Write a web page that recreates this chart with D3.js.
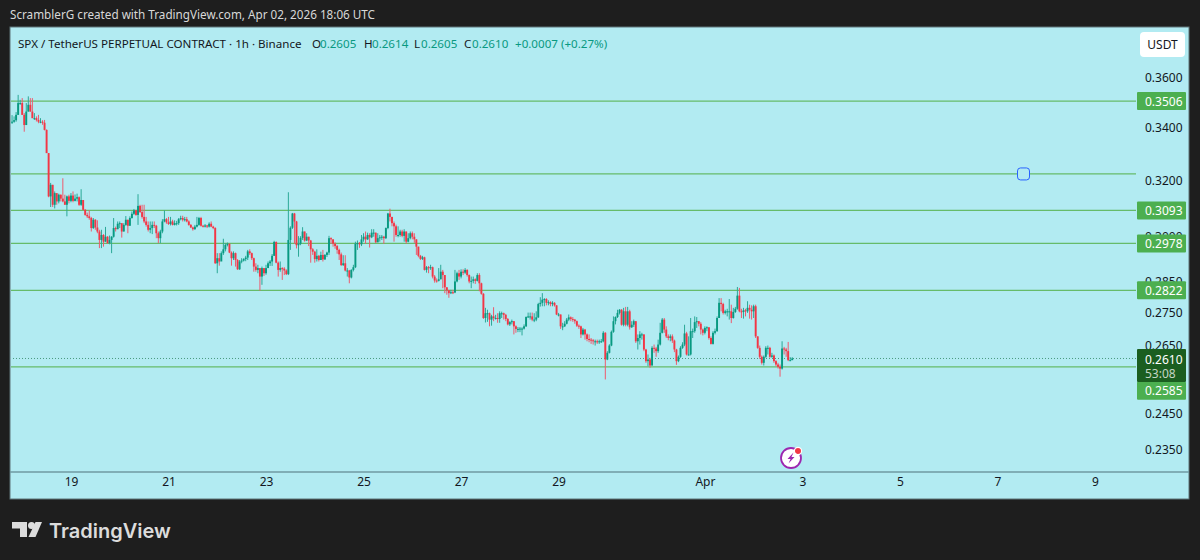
<!DOCTYPE html>
<html lang="en">
<head>
<meta charset="UTF-8">
<title>SPX / TetherUS 1h</title>
<script src="https://cdn.jsdelivr.net/npm/d3@7"></script>
<style>
  html, body { margin: 0; padding: 0; background: #1e1e1e; }
  svg { display: block; font-family: "Noto Sans", sans-serif; }
</style>
</head>
<body>
<svg id="chart" width="1200" height="560"></svg>
<script>
// hourly candles, oldest first. each open is the previous close
var firstOpen = 0.3433;
var closes = [
  .3424,.3424,.3430,.3451,.3498,.3498,.3451,.3411,.3464,.3491,.3464,.3438,.3438,.3431,.3424,.3424,.3420,
  .3392,.3303,.3143,.3185,.3113,.3155,.3125,.3149,.3135,.3125,.3113,.3143,.3127,.3146,.3127,.3135,.3140,
  .3113,.3130,.3095,.3077,.3072,.3066,.3031,.3060,.3033,.3019,.2990,.3007,.2984,.3001,.2979,.2990,.3001,
  .3031,.3027,.3046,.3048,.3019,.3042,.3060,.3039,.3066,.3081,.3093,.3077,.3109,.3087,.3070,.3054,.3042,
  .3025,.3031,.3042,.3039,.3013,.2996,.3019,.3054,.3062,.3051,.3045,.3054,.3042,.3048,.3048,.3062,.3066,
  .3060,.3062,.3054,.3042,.3033,.3027,.3036,.3042,.3066,.3039,.3036,.3040,.3036,.3046,.3036,.3031,.2911,
  .2928,.2917,.2945,.2958,.2973,.2977,.2947,.2928,.2945,.2922,.2891,.2917,.2920,.2925,.2930,.2951,.2945,
  .2928,.2900,.2889,.2895,.2867,.2895,.2878,.2895,
  .2911,.2917,.2936,.2983,.2913,.2889,.2895,.2893,.2887,.2875,.2990,.3032,.3082,.3054,.2972,.2977,.2997,
  .3019,.2988,.3001,.2988,.2958,.2950,.2925,.2936,.2922,.2939,.2924,.2939,.2947,.2996,.2992,.2977,.2969,
  .2956,.2941,.2905,.2911,.2887,.2887,.2864,.2889,.2898,.2977,.2979,.2975,.2992,.3001,.2992,.3007,.2999,
  .3015,.3015,.2982,.2996,.2999,.3001,.2996,.3031,.3082,.3070,.3048,.3037,.3007,.3007,.3019,.3004,.3019,
  .2984,.2996,.3013,.3001,.2992,.2967,.2936,.2926,.2931,.2889,.2898,.2895,.2898,.2867,.2854,.2853,.2858,
  .2883,.2872,.2832,.2822,.2813,.2816,.2815,.2851,.2878,.2867,.2883,.2880,.2889,.2872,.2851,.2853,.2858,.2853,
  .2872,.2845,.2811,.2734,.2749,.2749,.2729,.2739,.2734,.2734,.2731,.2749,.2749,.2744,.2731,.2714,.2721,.2724,
  .2708,.2700,.2700,.2701,.2701,.2708,.2737,.2739,
  .2739,.2729,.2729,.2736,.2778,.2782,.2792,.2794,.2782,.2784,.2778,.2782,.2774,.2745,.2745,.2708,.2708,
  .2716,.2729,.2736,.2731,.2729,.2724,.2710,.2708,.2683,.2698,.2683,.2669,.2667,.2665,.2662,.2662,.2659,
  .2662,.2662,.2688,.2607,.2627,.2649,.2691,.2724,.2737,.2750,.2760,.2713,.2755,.2713,.2755,.2705,.2713,
  .2724,.2662,.2672,.2683,.2683,.2637,.2602,.2607,.2589,.2642,.2640,.2632,.2652,.2688,.2729,.2698,.2677,
  .2672,.2677,.2664,.2637,.2602,.2615,.2642,.2652,.2686,.2622,.2622,.2693,.2693,.2721,.2724,.2716,.2698,
  .2688,.2703,.2705,.2672,.2654,.2688,.2693,.2734,.2782,.2778,.2750,.2755,.2755,.2755,.2734,.2753,.2763,
  .2805,.2755,.2753,.2758,.2755,.2766,.2760,.2755,.2771,.2677,.2642,.2615,.2597,.2615,.2642,.2642,.2615,
  .2619,.2602,.2592,.2585,.2580,.2640,.2637,.2632,.2605,.2605,.2610
];
var highs = [
  .3474,.3450,.3445,.3462,.3531,.3511,.3518,.3458,.3498,.3525,.3518,.3518,.3458,.3445,.3451,.3438,.3430,
  .3431,.3394,.3303,.3192,.3185,.3161,.3149,.3153,.3150,.3209,.3149,.3146,.3149,.3155,.3161,.3150,.3153,
  .3143,.3169,.3130,.3098,.3085,.3093,.3070,.3066,.3062,.3058,.3025,.3025,.3010,.3035,.3003,.3005,.3003,
  .3066,.3036,.3054,.3054,.3048,.3048,.3073,.3060,.3072,.3089,.3098,.3095,.3151,.3113,.3113,.3113,.3070,
  .3054,.3054,.3054,.3054,.3042,.3019,.3025,.3062,.3093,.3066,.3070,.3070,.3060,.3058,.3056,.3066,.3074,
  .3074,.3070,.3070,.3058,.3045,.3036,.3042,.3070,.3070,.3070,.3042,.3045,.3042,.3051,.3054,.3039,.3034,
  .2945,.2945,.2951,.2994,.2979,.2981,.2977,.2951,.2951,.2947,.2925,.2922,.2928,.2928,.2936,.2956,.2958,
  .2947,.2930,.2911,.2906,.2895,.2900,.2895,.2906,
  .2917,.2922,.2942,.2987,.2985,.2917,.2917,.2898,.2898,.2891,.3158,.3037,.3084,.3084,.3056,.3003,.3003,
  .3034,.3019,.3013,.3001,.2990,.2962,.2953,.2958,.2939,.2950,.2956,.2942,.2950,.3004,.2999,.2992,.2982,
  .2973,.2960,.2947,.2938,.2938,.2895,.2889,.2891,.2906,.2984,.2988,.2983,.3007,.3013,.3019,.3015,.3013,
  .3027,.3027,.3015,.3013,.3007,.3007,.3004,.3033,.3084,.3099,.3070,.3054,.3043,.3037,.3025,.3025,.3027,
  .3019,.3013,.3019,.3019,.3013,.2992,.2967,.2939,.2936,.2933,.2902,.2902,.2906,.2900,.2872,.2861,.2895,
  .2906,.2889,.2872,.2832,.2824,.2824,.2824,.2889,.2883,.2889,.2891,.2891,.2895,.2891,.2874,.2867,.2867,.2861,
  .2878,.2878,.2847,.2813,.2766,.2760,.2751,.2744,.2768,.2744,.2749,.2755,.2754,.2751,.2747,.2734,.2724,.2729,
  .2724,.2711,.2706,.2706,.2705,.2714,.2739,.2751,
  .2751,.2751,.2749,.2755,.2782,.2800,.2813,.2797,.2797,.2790,.2787,.2787,.2784,.2774,.2750,.2745,.2719,
  .2724,.2734,.2745,.2739,.2737,.2731,.2726,.2714,.2710,.2703,.2700,.2686,.2683,.2672,.2669,.2667,.2667,
  .2667,.2669,.2693,.2690,.2632,.2653,.2695,.2739,.2739,.2760,.2762,.2762,.2766,.2769,.2769,.2760,.2724,
  .2729,.2724,.2683,.2693,.2688,.2683,.2639,.2622,.2612,.2647,.2652,.2645,.2667,.2719,.2734,.2734,.2708,
  .2683,.2683,.2683,.2667,.2639,.2619,.2647,.2659,.2713,.2691,.2677,.2734,.2701,.2739,.2737,.2724,.2721,
  .2701,.2708,.2708,.2705,.2677,.2693,.2701,.2739,.2797,.2797,.2782,.2760,.2763,.2794,.2776,.2766,.2769,
  .2833,.2830,.2763,.2766,.2763,.2787,.2776,.2774,.2776,.2776,.2677,.2649,.2619,.2619,.2647,.2649,.2645,
  .2627,.2622,.2605,.2597,.2592,.2662,.2645,.2642,.2660,.2614,.2614
];
var lows = [
  .3418,.3415,.3420,.3424,.3451,.3491,.3451,.3385,.3411,.3464,.3464,.3438,.3431,.3425,.3418,.3418,.3412,
  .3390,.3303,.3140,.3105,.3105,.3100,.3113,.3118,.3125,.3122,.3113,.3072,.3118,.3122,.3122,.3125,.3125,
  .3109,.3109,.3093,.3074,.3066,.3060,.3019,.3028,.3025,.3013,.2962,.2962,.2967,.2984,.2977,.2975,.2945,
  .2998,.3019,.3027,.3031,.2998,.3019,.3039,.3013,.3039,.3064,.3077,.3074,.3042,.3084,.3064,.3048,.3036,
  .3019,.3013,.3010,.3031,.2996,.2979,.2979,.3013,.3051,.3046,.3042,.3040,.3040,.3040,.3040,.3042,.3058,
  .3054,.3054,.3051,.3039,.3031,.3022,.3025,.3033,.3039,.3036,.3033,.3033,.3031,.3033,.3034,.3027,.2909,
  .2878,.2903,.2922,.2939,.2951,.2968,.2945,.2903,.2922,.2900,.2889,.2889,.2911,.2917,.2918,.2922,.2939,
  .2922,.2883,.2883,.2878,.2821,.2840,.2869,.2873,
  .2900,.2902,.2902,.2936,.2911,.2867,.2883,.2856,.2872,.2872,.2872,.2956,.3028,.2977,.2961,.2933,.2972,
  .2990,.2984,.2986,.2969,.2913,.2939,.2913,.2917,.2917,.2922,.2917,.2922,.2932,.2939,.2977,.2967,.2960,
  .2943,.2922,.2902,.2902,.2884,.2867,.2845,.2861,.2884,.2895,.2956,.2963,.2969,.2984,.2977,.2990,.2964,
  .2996,.3001,.2979,.2982,.2984,.2990,.2977,.2993,.3027,.3054,.3037,.2984,.3001,.2999,.3001,.2999,.2984,
  .2977,.2982,.2992,.2992,.2980,.2939,.2931,.2922,.2922,.2887,.2880,.2878,.2889,.2861,.2847,.2847,.2851,
  .2858,.2829,.2813,.2808,.2798,.2810,.2810,.2813,.2848,.2856,.2861,.2872,.2876,.2867,.2845,.2829,.2845,.2843,
  .2851,.2819,.2808,.2731,.2720,.2722,.2708,.2710,.2724,.2729,.2719,.2719,.2734,.2729,.2724,.2711,.2709,.2714,
  .2683,.2688,.2690,.2690,.2680,.2698,.2706,.2734,
  .2729,.2724,.2721,.2724,.2734,.2770,.2771,.2771,.2774,.2774,.2771,.2771,.2770,.2743,.2739,.2700,.2696,
  .2706,.2714,.2724,.2724,.2722,.2716,.2706,.2700,.2672,.2680,.2667,.2662,.2659,.2654,.2652,.2649,.2654,
  .2654,.2657,.2659,.2548,.2605,.2625,.2647,.2688,.2714,.2734,.2745,.2710,.2708,.2708,.2708,.2698,.2703,
  .2706,.2657,.2637,.2652,.2667,.2632,.2597,.2587,.2582,.2589,.2627,.2615,.2627,.2649,.2686,.2688,.2672,
  .2665,.2662,.2657,.2629,.2591,.2599,.2612,.2639,.2647,.2619,.2619,.2619,.2672,.2688,.2703,.2708,.2683,
  .2680,.2683,.2693,.2667,.2652,.2652,.2683,.2691,.2734,.2755,.2745,.2745,.2739,.2729,.2718,.2732,.2750,
  .2760,.2752,.2734,.2732,.2739,.2750,.2732,.2729,.2734,.2672,.2639,.2609,.2592,.2589,.2612,.2622,.2612,
  .2612,.2597,.2587,.2580,.2556,.2577,.2622,.2615,.2602,.2602,.2605
];
if (closes.length != highs.length || closes.length != lows.length) {
  throw new Error("lengths " + closes.length + " " + highs.length + " " + lows.length);
}
var opens = [firstOpen].concat(closes.slice(0, -1));

var lastCandle = Date.UTC(2026, 3, 2, 18);
var hour = 3600000;
var times = closes.map(function (c, i) { return lastCandle - (closes.length - 1 - i) * hour; });

var levelPrices = [0.3506, 0.3225, 0.3093, 0.2978, 0.2822, 0.2585];
var levelLabels = ["0.3506", "", "0.3093", "0.2978", "0.2822", "0.2585"];
var priceTicks = [0.36, 0.34, 0.32, 0.30, 0.285, 0.275, 0.265, 0.245, 0.235];
var dayTicks = [
  Date.UTC(2026, 2, 19), Date.UTC(2026, 2, 21), Date.UTC(2026, 2, 23), Date.UTC(2026, 2, 25),
  Date.UTC(2026, 2, 27), Date.UTC(2026, 2, 29), Date.UTC(2026, 3, 1), Date.UTC(2026, 3, 3),
  Date.UTC(2026, 3, 5), Date.UTC(2026, 3, 7), Date.UTC(2026, 3, 9)
];
var dayLabels = ["19", "21", "23", "25", "27", "29", "Apr", "3", "5", "7", "9"];
var lastPrice = 0.2610;

// window.top is read-only, so pane edges get their own names
var paneLeft = 10, paneRight = 1136, paneTop = 27, paneBottom = 472;

var x = d3.scaleUtc().domain([Date.UTC(2026, 2, 19), Date.UTC(2026, 3, 9)]).range([73, 1097]);
var y = d3.scaleLog().domain([0.36, 0.235]).range([78, 450]);

var svg = d3.select("#chart");
var up = "#089981", down = "#f23645";
var upWick = "#2ba897", downWick = "#ee5a6e";

svg.append("rect").attr("x", paneLeft).attr("y", paneTop).attr("width", 1179).attr("height", 472)
  .attr("fill", "#b2ebf2").attr("stroke", "#5f7478").attr("stroke-width", 1);

svg.append("defs").append("clipPath").attr("id", "pane").append("rect")
  .attr("x", paneLeft + 1).attr("y", paneTop).attr("width", paneRight - paneLeft - 1).attr("height", paneBottom - paneTop);

svg.append("text").attr("x", 10).attr("y", 19).attr("fill", "#d8d8d8").attr("font-size", 11.7)
  .text("ScramblerG created with TradingView.com, Apr 02, 2026 18:06 UTC");

// legend row
var legend = [
  [18, "SPX / TetherUS PERPETUAL CONTRACT · 1h · Binance", "#131722"],
  [312, "O", "#131722"], [320, "0.2605", up],
  [364, "H", "#131722"], [372, "0.2614", up],
  [414, "L", "#131722"], [421, "0.2605", up],
  [464, "C", "#131722"], [472, "0.2610", up],
  [515, "+0.0007 (+0.27%)", up]
];
svg.append("g").selectAll("text").data(legend).join("text")
  .attr("x", function (d) { return d[0]; }).attr("y", 47.5)
  .attr("font-size", 11.6).attr("fill", function (d) { return d[2]; })
  .text(function (d) { return d[1]; });

// price axis sits under the level labels
var yAxis = svg.append("g").attr("transform", "translate(1145,0)")
  .call(d3.axisRight(y).tickValues(priceTicks).tickFormat(d3.format(".4f")).tickSize(0).tickPadding(0));
yAxis.select(".domain").remove();
yAxis.selectAll("text").attr("font-size", 12).attr("fill", "#131722")
  .attr("font-family", '"Noto Sans", sans-serif');

// day labels sit 2px left of the candle grid
var xAxis = svg.append("g").attr("transform", "translate(-2," + paneBottom + ")")
  .call(d3.axisBottom(x).tickValues(dayTicks).tickSize(0).tickPadding(5)
    .tickFormat(function (d, i) { return dayLabels[i]; }));
xAxis.select(".domain").remove();
xAxis.selectAll("text").attr("font-size", 12).attr("fill", "#131722")
  .attr("font-family", '"Noto Sans", sans-serif');

svg.append("line").attr("x1", paneLeft).attr("x2", paneLeft + 1179).attr("y1", paneBottom).attr("y2", paneBottom)
  .attr("stroke", "#6f9aa2").attr("stroke-width", 1.5);

var pane = svg.append("g").attr("clip-path", "url(#pane)");

pane.selectAll(".level").data(levelPrices).join("line").attr("class", "level")
  .attr("x1", paneLeft).attr("x2", paneRight)
  .attr("y1", function (d) { return y(d); }).attr("y2", function (d) { return y(d); })
  .attr("stroke", "#66bb6a").attr("stroke-width", 1.2);

pane.append("line").attr("x1", paneLeft).attr("x2", paneRight)
  .attr("y1", y(lastPrice)).attr("y2", y(lastPrice))
  .attr("stroke", "#4a9a80").attr("stroke-width", 1).attr("stroke-dasharray", "1 2");

// candles
var idx = d3.range(closes.length);
function isUp(i) { return closes[i] >= opens[i]; }
pane.append("g").selectAll("line").data(idx).join("line")
  .attr("x1", function (i) { return x(times[i]); }).attr("x2", function (i) { return x(times[i]); })
  .attr("y1", function (i) { return y(highs[i]); }).attr("y2", function (i) { return y(lows[i]); })
  .attr("stroke", function (i) { return isUp(i) ? upWick : downWick; }).attr("stroke-width", 1);
pane.append("g").selectAll("rect").data(idx).join("rect")
  .attr("x", function (i) { return x(times[i]) - 0.95; }).attr("width", 1.9)
  .attr("y", function (i) { return y(Math.max(opens[i], closes[i])); })
  .attr("height", function (i) { return Math.max(1, Math.abs(y(opens[i]) - y(closes[i]))); })
  .attr("fill", function (i) { return isUp(i) ? up : down; });

// level labels on the price scale
var labelled = levelPrices.map(function (p, i) { return { p: p, t: levelLabels[i] }; })
  .filter(function (d) { return d.t; });
var tags = svg.append("g").selectAll("g").data(labelled).join("g")
  .attr("transform", function (d) {
    var off = d.t == "0.2585" ? 24 : 0;
    return "translate(1137," + (y(d.p) + off - 9) + ")";
  });
tags.append("rect").attr("width", 49).attr("height", 18).attr("rx", 1).attr("fill", "#4caf50");
tags.append("text").attr("x", 8).attr("y", 13.5).attr("font-size", 12).attr("fill", "#fff")
  .text(function (d) { return d.t; });

var lastBox = svg.append("g").attr("transform", "translate(1137,349)");
lastBox.append("rect").attr("width", 49).attr("height", 33).attr("rx", 1).attr("fill", "#1b5e20");
lastBox.append("text").attr("x", 8).attr("y", 14.5).attr("font-size", 12).attr("fill", "#fff").text("0.2610");
lastBox.append("text").attr("x", 8).attr("y", 28.5).attr("font-size", 12).attr("fill", "#c5d6c6").text("53:08");

// currency button
svg.append("rect").attr("x", 1140).attr("y", 32).attr("width", 45).attr("height", 25).attr("rx", 4).attr("fill", "#fff");
svg.append("text").attr("x", 1162.5).attr("y", 49).attr("text-anchor", "middle").attr("font-size", 12)
  .attr("fill", "#131722").text("USDT");

// drawing handle on the unlabelled level
svg.append("rect").attr("x", 1017.5).attr("y", y(0.3225) - 6).attr("width", 12).attr("height", 12).attr("rx", 3)
  .attr("fill", "#b2ebf2").attr("stroke", "#2962ff").attr("stroke-width", 1);

// bolt badge
var badge = svg.append("g").attr("transform", "translate(791,458)");
badge.append("circle").attr("r", 10).attr("fill", "#fff").attr("stroke", "#9c27b0").attr("stroke-width", 1.8);
badge.append("path").attr("d", "M2.5,-5.5 L-3.5,1 L-0.5,1 L-2.5,5.5 L3.5,-1 L0.5,-1 Z").attr("fill", "#9c27b0");
badge.append("circle").attr("cx", 7).attr("cy", -7).attr("r", 3.6).attr("fill", "#f23645").attr("stroke", "#fff").attr("stroke-width", 1.2);

// brand mark
var brand = svg.append("g").attr("fill", "#dcdcdc");
brand.append("path").attr("d", "M12,522 H27 V537 H20 V528.5 H12 Z");
brand.append("circle").attr("cx", 31.5).attr("cy", 525.5).attr("r", 3.5);
brand.append("path").attr("d", "M35.5,522 H42 L35.5,537 H28.5 Z");
brand.append("text").attr("x", 49).attr("y", 537.5).attr("font-family", "Inter, sans-serif")
  .attr("font-size", 20).attr("font-weight", 600).text("TradingView");
</script>
</body>
</html>
